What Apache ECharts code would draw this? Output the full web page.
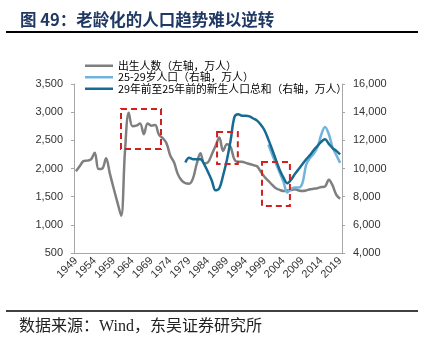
<!DOCTYPE html>
<html><head><meta charset="utf-8">
<script src="https://cdn.jsdelivr.net/npm/echarts@6/dist/echarts.min.js"></script>
<style>html,body{margin:0;padding:0;background:#fff;}#c{width:427px;height:346px;}</style>
</head><body><div id="c"></div>
<script>
const years = ['1949','1950','1951','1952','1953','1954','1955','1956','1957','1958','1959',
'1960','1961','1962','1963','1964','1965','1966','1967','1968','1969',
'1970','1971','1972','1973','1974','1975','1976','1977','1978','1979',
'1980','1981','1982','1983','1984','1985','1986','1987','1988','1989',
'1990','1991','1992','1993','1994','1995','1996','1997','1998','1999',
'2000','2001','2002','2003','2004','2005','2006','2007','2008','2009',
'2010','2011','2012','2013','2014','2015','2016','2017','2018','2019'];

// 出生人数（左轴，万人）
const births = [1950,2040,2130,2140,2160,2280,1990,2000,2180,1910,1650,
1400,1160,2300,2990,2750,2760,2800,2610,2800,2760,
2770,2600,2540,2450,2230,2110,1900,1790,1740,1730,
1820,2080,2270,2090,2110,2250,2400,2550,2310,2430,
2380,2160,2120,2120,2100,2080,2060,2040,1940,1850,
1780,1710,1650,1620,1600,1610,1620,1630,1610,1600,
1610,1630,1640,1650,1670,1680,1800,1700,1530,1465];

// 25-29岁人口（右轴，万人）, 2000-2019
const pop2529 = [null,null,null,null,null,null,null,null,null,null,null,
null,null,null,null,null,null,null,null,null,null,
null,null,null,null,null,null,null,null,null,null,
null,null,null,null,null,null,null,null,null,null,
null,null,null,null,null,null,null,null,null,null,
11700,11000,10350,9700,9050,8300,8550,8650,8650,8950,
10250,10750,11050,11500,12400,12950,12450,11500,10950,10400];

// 29年前至25年前的新生人口总和（右轴，万人）, 1978-2019
const birthSum = [null,null,null,null,null,null,null,null,null,null,null,
null,null,null,null,null,null,null,null,null,null,
null,null,null,null,null,null,null,null,10420,10760,
10660,10650,10650,10300,9750,9150,8450,8600,9500,10600,
12000,13650,13850,13750,13750,13700,13550,13400,13100,12700,
12050,11350,10600,9900,9350,8950,9200,9600,9950,10300,
10650,10950,11300,11600,11900,12070,11750,11450,11250,11000];

// red dashed highlight boxes (year span, left-axis value span)
const boxYearFrom = [1960.95, 1986.4, 1998.3];
const boxYearTo   = [1971.55, 1991.9, 2005.7];
const boxTop      = [3056, 2648, 2116];
const boxBottom   = [2346, 2080, 1335];

const names = ['出生人数（左轴，万人）','25-29岁人口（右轴，万人）','29年前至25年前的新生人口总和（右轴，万人）'];
const colors = ['#7f7f7f','#72b3dc','#176a92'];

const boxes = boxYearFrom.map((v,i)=>[v, boxYearTo[i], boxTop[i], boxBottom[i]]);

const chart = echarts.init(document.getElementById('c'), null, {renderer:'canvas'});
const fmt = v => v.toLocaleString('en-US');
const axisCol = '#a6a6a6';
chart.setOption({
  animation:false,
  backgroundColor:'#fff',
  title:[
    {text:'图 49：老龄化的人口趋势难以逆转', left:15, top:6,
     textStyle:{fontSize:16.5, fontWeight:'bold', color:'#1f3864', fontFamily:'Noto Sans CJK SC'}},
    {text:'数据来源：Wind，东吴证券研究所', left:14, top:314,
     textStyle:{fontSize:16, fontWeight:'normal', color:'#222', fontFamily:'Liberation Serif, Noto Sans CJK SC'}}
  ],
  graphic:[
    {type:'line', shape:{x1:6,y1:32,x2:418,y2:32}, style:{stroke:'#000', lineWidth:2}},
    {type:'line', shape:{x1:6,y1:311,x2:418,y2:311}, style:{stroke:'#000', lineWidth:1.5}}
  ],
  legend:{
    orient:'vertical', left:80, top:55, itemWidth:28, itemHeight:2.5, itemGap:0, icon:'rect',
    textStyle:{fontSize:10.8, color:'#000', fontFamily:'Noto Sans CJK SC', lineHeight:11.5},
    data:names
  },
  grid:{left:74, right:85, top:84, bottom:93, containLabel:false},
  xAxis:[
    {type:'category', data:years, boundaryGap:true,
     axisLine:{lineStyle:{color:axisCol}},
     axisTick:{interval:4, length:4, lineStyle:{color:axisCol}},
     axisLabel:{interval:4, rotate:45, fontSize:11, color:'#333', fontFamily:'Liberation Sans', margin:6},
     splitLine:{show:false}},
    {type:'value', min:1948.5, max:2019.5, show:false}
  ],
  yAxis:[
    {type:'value', min:500, max:3500, interval:500, position:'left',
     axisLine:{show:true, lineStyle:{color:axisCol}},
     axisTick:{show:true, length:3, lineStyle:{color:axisCol}},
     axisLabel:{formatter:fmt, fontSize:11, color:'#333', fontFamily:'Liberation Sans', margin:11},
     splitLine:{show:false}},
    {type:'value', min:4000, max:16000, interval:2000, position:'right',
     axisLine:{show:true, lineStyle:{color:axisCol}},
     axisTick:{show:true, length:3, lineStyle:{color:axisCol}},
     axisLabel:{formatter:fmt, fontSize:11, color:'#333', fontFamily:'Liberation Sans', margin:11},
     splitLine:{show:false}}
  ],
  series:[
    {name:names[0], type:'line', data:births, yAxisIndex:0, smooth:0.35, showSymbol:false,
     color:colors[0], lineStyle:{width:2.5, color:colors[0]}},
    {name:names[1], type:'line', data:pop2529, yAxisIndex:1, smooth:0.35, showSymbol:false,
     color:colors[1], lineStyle:{width:2.5, color:colors[1]}},
    {name:names[2], type:'line', data:birthSum, yAxisIndex:1, smooth:0.35, showSymbol:false,
     color:colors[2], lineStyle:{width:2.5, color:colors[2]}},
    {name:'boxes', type:'custom', xAxisIndex:1, yAxisIndex:0, data:boxes,
     encode:{x:[0,1], y:[2,3]}, silent:true, z:10,
     renderItem:(params, api)=>{
       const p0 = api.coord([api.value(0), api.value(2)]);
       const p1 = api.coord([api.value(1), api.value(3)]);
       return {type:'rect', shape:{x:p0[0], y:p0[1], width:p1[0]-p0[0], height:p1[1]-p0[1]},
         style:{fill:'none', stroke:'#d41f1f', lineWidth:2, lineDash:[6,4]}};
     }}
  ]
});
</script></body></html>
